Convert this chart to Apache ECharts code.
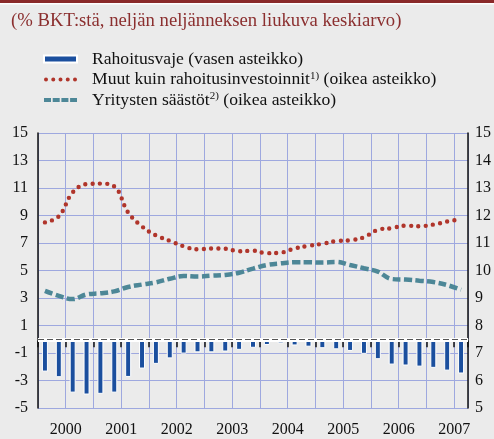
<!DOCTYPE html>
<html>
<head>
<meta charset="utf-8">
<script src="https://cdn.jsdelivr.net/npm/echarts@6/dist/echarts.min.js"></script>
<style>
html, body { margin: 0; padding: 0; background: #ebebeb; }
#chart { width: 494px; height: 439px; }
</style>
</head>
<body>
<div id="chart"></div>
<script>
var quarters = [
  "2000Q1", "2000Q2", "2000Q3", "2000Q4", "2001Q1", "2001Q2", "2001Q3", "2001Q4",
  "2002Q1", "2002Q2", "2002Q3", "2002Q4", "2003Q1", "2003Q2", "2003Q3", "2003Q4",
  "2004Q1", "2004Q2", "2004Q3", "2004Q4", "2005Q1", "2005Q2", "2005Q3", "2005Q4",
  "2006Q1", "2006Q2", "2006Q3", "2006Q4", "2007Q1", "2007Q2", "2007Q3"
];
// vasen asteikko
var rahoitusvaje = [
  -2.35, -2.76, -3.88, -4.02, -3.97, -3.88, -2.74, -2.13, -1.79, -1.39, -1.04, -0.95, -0.95, -0.89, -0.77,
  -0.62, -0.42, -0.30, -0.45, -0.54, -0.65, -0.73, -0.85, -1.06, -1.45, -1.84, -1.91, -1.99, -2.08, -2.28, -2.49
];
// oikea asteikko
var muutInvestoinnit = [
  11.75, 11.97, 12.84, 13.14, 13.16, 13.06, 12.11, 11.60, 11.28, 11.08, 10.88, 10.77, 10.80, 10.79, 10.70,
  10.72, 10.63, 10.65, 10.80, 10.90, 10.97, 11.07, 11.10, 11.21, 11.48, 11.54, 11.63, 11.61, 11.67, 11.78, 11.87
];
var saastot = [
  9.26, 9.08, 8.96, 9.13, 9.17, 9.24, 9.40, 9.49, 9.57, 9.70, 9.80, 9.78, 9.81, 9.84, 9.92,
  10.07, 10.20, 10.26, 10.30, 10.30, 10.29, 10.31, 10.20, 10.08, 9.96, 9.69, 9.67, 9.63, 9.58, 9.47, 9.30
];
var legendNames = {
  vaje: "Rahoitusvaje (vasen asteikko)",
  muut: "Muut kuin rahoitusinvestoinnit{sup|1)} (oikea asteikko)",
  saast: "Yritysten säästöt{sup|2)} (oikea asteikko)"
};

var serif = "Liberation Serif";
var gridColor = "#9ea8df";

// legendan kuvakkeet: pisteet ja katkoviiva
var dot = "a2,2 0 1,0 4,0a2,2 0 1,0 -4,0Z";
var dotsIcon = "path://M0,2" + dot + "M7.25,2" + dot + "M14.5,2" + dot + "M21.75,2" + dot + "M29,2" + dot;
var dashIcon = "path://M0,0H7V4H0ZM8.7,0H15.7V4H8.7ZM17.4,0H24.4V4H17.4ZM26.1,0H33V4H26.1Z";

var chart = echarts.init(document.getElementById("chart"));

var option = {
  backgroundColor: "#ebebeb",
  animation: false,
  graphic: [
    { type: "rect", left: 0, top: 0, shape: { width: 494, height: 3 }, style: { fill: "#8a2a2a" } },
    { type: "rect", left: 0, top: 3, shape: { width: 494, height: 1.5 }, style: { fill: "#ffffff" } }
  ],
  title: {
    text: "(% BKT:stä, neljän neljänneksen liukuva keskiarvo)",
    left: 6,
    top: 7,
    textStyle: { fontFamily: serif, fontSize: 18.7, fontWeight: "normal", color: "#8b2f2f" }
  },
  legend: {
    orient: "vertical",
    left: 38,
    top: 45,
    itemWidth: 33,
    itemHeight: 14,
    itemGap: 2.5,
    selectedMode: false,
    data: [
      { name: "vaje", icon: "path://M0,0H33V7H0Z" },
      { name: "muut", icon: dotsIcon, itemStyle: { color: "#b0352b", borderWidth: 0 } },
      { name: "saast", icon: dashIcon, itemStyle: { color: "#4d8797", borderWidth: 0 } }
    ],
    formatter: function (name) {
      return legendNames[name];
    },
    textStyle: {
      fontFamily: serif,
      fontSize: 17.6,
      lineHeight: 18,
      color: "#111",
      padding: [0, 0, 0, 10],
      rich: {
        sup: { fontFamily: serif, fontSize: 11, color: "#111", padding: [0, 0, 7, 0] }
      }
    }
  },
  grid: { left: 38, right: 25, top: 133, bottom: 31 },
  xAxis: {
    type: "category",
    data: quarters,
    boundaryGap: true,
    axisLine: { show: true, lineStyle: { color: "#ffffff", width: 2 } },
    axisTick: { show: true, interval: 1, length: 8, lineStyle: { color: "#111", width: 1.5 } },
    axisLabel: {
      interval: function (index) { return index % 4 === 1; },
      formatter: function (v) { return v.slice(0, 4); },
      padding: [0, 0, 0, 14],
      margin: 14,
      fontFamily: serif,
      fontSize: 16,
      color: "#111"
    },
    splitLine: { show: true, interval: 1, lineStyle: { color: gridColor, width: 1 } }
  },
  yAxis: [
    {
      type: "value",
      min: -5,
      max: 15,
      interval: 1,
      position: "left",
      axisLine: { show: true, lineStyle: { color: "#111", width: 1.5 } },
      axisTick: { show: false },
      splitLine: { show: false },
      axisLabel: {
        formatter: function (v) { return Math.abs(v % 2) === 1 ? String(v) : ""; },
        fontFamily: serif,
        fontSize: 16,
        color: "#111",
        margin: 10
      }
    },
    {
      type: "value",
      min: 5,
      max: 15,
      interval: 1,
      position: "right",
      axisLine: { show: true, lineStyle: { color: "#111", width: 1.5 } },
      axisTick: { show: false },
      splitLine: { show: true, lineStyle: { color: gridColor, width: 1 } },
      axisLabel: { fontFamily: serif, fontSize: 16, color: "#111", margin: 7 }
    }
  ],
  series: [
    {
      name: "vaje",
      type: "bar",
      yAxisIndex: 0,
      data: rahoitusvaje,
      barWidth: 6,
      itemStyle: { color: "#1b4f9e", borderColor: "#ffffff", borderWidth: 1 },
      markLine: {
        silent: true,
        symbol: "none",
        label: { show: false },
        data: [
          { yAxis: 0, lineStyle: { color: "#ffffff", width: 4, type: "solid" } },
          { yAxis: 0, lineStyle: { color: "#555", width: 1.2, type: [6, 3] } }
        ]
      },
      z: 3
    },
    {
      name: "muut",
      type: "line",
      yAxisIndex: 1,
      data: muutInvestoinnit,
      smooth: 0.4,
      symbol: "none",
      lineStyle: { color: "#b0352b", width: 4.4, type: [0, 7.3], cap: "round" },
      itemStyle: { color: "#b0352b" },
      z: 4
    },
    {
      name: "saast",
      type: "line",
      yAxisIndex: 1,
      data: saastot,
      smooth: 0.4,
      symbol: "none",
      lineStyle: { color: "#4d8797", width: 4.5, type: [8, 3.5], cap: "butt" },
      itemStyle: { color: "#4d8797" },
      z: 4
    }
  ]
};

chart.setOption(option);
</script>
</body>
</html>
